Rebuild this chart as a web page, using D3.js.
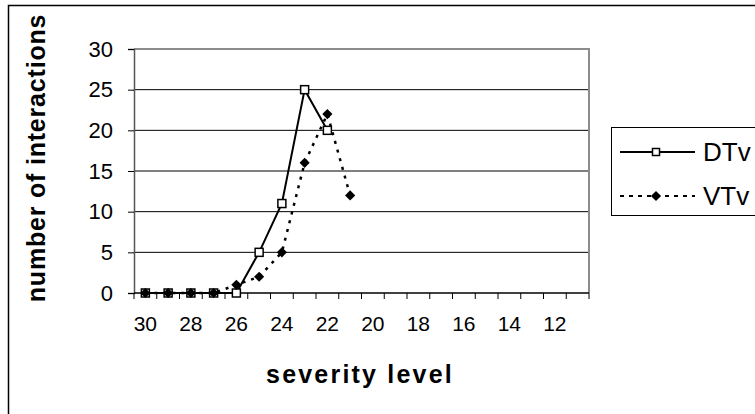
<!DOCTYPE html>
<html><head><meta charset="utf-8">
<script src="https://cdn.jsdelivr.net/npm/d3@7"></script>
<style>body{margin:0;background:#fff}svg{display:block}text{font-family:"Liberation Sans",Arial,sans-serif}</style>
</head><body><svg id="c" width="755" height="414"></svg>
<script>
const categories = [30,29,28,27,26,25,24,23,22,21,20,19,18,17,16,15,14,13,12,11];
const xTickLabels = [30,28,26,24,22,20,18,16,14,12];
const yTicks = [0,5,10,15,20,25,30];
const dtvCats = [30,29,28,27,26,25,24,23,22];
const dtvValues = [0,0,0,0,0,5,11,25,20];
const vtvCats = [30,29,28,27,26,25,24,23,22,21];
const vtvValues = [0,0,0,0,1,2,5,16,22,12];
const seriesNames = ["DTv","VTv"];

const svg = d3.select("#c");
const L=134, R=589, T=49, B=293;
const x = d3.scaleBand().domain(categories).range([L,R]);
const y = d3.scaleLinear().domain([0,30]).range([B,T]);
const cx = c => x(c) + x.bandwidth()/2;

// outer border
svg.append("rect").attr("x",8.5).attr("y",5.5).attr("width",900).attr("height",600)
  .attr("fill","none").attr("stroke","#000").attr("stroke-width",1.5);

// gridlines
svg.append("g").selectAll("line").data(yTicks.filter(d=>d>0&&d<30)).join("line")
  .attr("x1",L).attr("x2",R).attr("y1",d=>y(d)).attr("y2",d=>y(d))
  .attr("stroke","#000").attr("stroke-width",1);

// plot border (top/right)
svg.append("path").attr("d",`M${L},${T}H${R}V${B}`).attr("fill","none")
  .attr("stroke","#8c8c8c").attr("stroke-width",2);

// y axis
const yAxis = d3.axisLeft(y).tickValues(yTicks).tickSize(6).tickPadding(15).tickFormat(d3.format("d"));
const gy = svg.append("g").attr("transform",`translate(${L},0)`).call(yAxis);
gy.select(".domain").attr("stroke","#555").attr("stroke-width",1.5);
gy.selectAll(".tick line").attr("stroke","#000");
gy.selectAll("text").attr("font-size",22).attr("fill","#000").attr("font-family","Liberation Sans, Arial, sans-serif");

// x axis: ticks at category boundaries
const boundaries = categories.map(c=>x(c)).concat([R]);
const gx = svg.append("g");
gx.append("line").attr("x1",L).attr("x2",R).attr("y1",B).attr("y2",B).attr("stroke","#000").attr("stroke-width",1.5);
gx.selectAll("line.t").data(boundaries).join("line").attr("class","t")
  .attr("x1",d=>d).attr("x2",d=>d).attr("y1",B).attr("y2",B+6).attr("stroke","#000");
gx.selectAll("text").data(xTickLabels).join("text")
  .attr("x",d=>cx(d)).attr("y",331).attr("text-anchor","middle").attr("font-size",21).text(d=>d);

// titles
svg.append("text").attr("transform","translate(45,158) rotate(-90)").attr("text-anchor","middle")
  .attr("font-size",25).attr("font-weight","bold").attr("letter-spacing",0.8).text("number of interactions");
svg.append("text").attr("x",360).attr("y",383).attr("text-anchor","middle")
  .attr("font-size",25).attr("font-weight","bold").attr("letter-spacing",2.2).text("severity level");

// series
const line = d3.line().x(d=>cx(d[0])).y(d=>y(d[1]));
const dtv = dtvCats.map((c,i)=>[c,dtvValues[i]]);
const vtv = vtvCats.map((c,i)=>[c,vtvValues[i]]);
svg.append("path").datum(dtv).attr("d",line).attr("fill","none").attr("stroke","#000").attr("stroke-width",2);
svg.append("g").selectAll("rect").data(dtv).join("rect")
  .attr("x",d=>cx(d[0])-4).attr("y",d=>y(d[1])-4).attr("width",8).attr("height",8)
  .attr("fill","#fff").attr("stroke","#000").attr("stroke-width",1.5);
svg.append("path").datum(vtv).attr("d",line).attr("fill","none").attr("stroke","#000").attr("stroke-width",2.5).attr("stroke-dasharray","3,6");
const diamond = d3.symbol().type(d3.symbolDiamond2).size(66);
svg.append("g").selectAll("path").data(vtv).join("path")
  .attr("d",diamond).attr("transform",d=>`translate(${cx(d[0])},${y(d[1])})`).attr("fill","#000");

// legend
const lg = svg.append("g");
lg.append("rect").attr("x",611.5).attr("y",127.5).attr("width",300).attr("height",88)
  .attr("fill","#fff").attr("stroke","#000").attr("stroke-width",1);
const rows = [{n:seriesNames[0],y:152},{n:seriesNames[1],y:196}];
lg.append("line").attr("x1",620).attr("x2",695).attr("y1",rows[0].y).attr("y2",rows[0].y).attr("stroke","#000").attr("stroke-width",2);
lg.append("rect").attr("x",656-3.5).attr("y",rows[0].y-3.5).attr("width",7).attr("height",7).attr("fill","#fff").attr("stroke","#000").attr("stroke-width",1.5);
lg.append("line").attr("x1",620).attr("x2",695).attr("y1",rows[1].y).attr("y2",rows[1].y).attr("stroke","#000").attr("stroke-width",2).attr("stroke-dasharray","4,5");
lg.append("path").attr("d",diamond).attr("transform",`translate(656,${rows[1].y})`).attr("fill","#000");
lg.selectAll("text").data(rows).join("text").attr("x",703).attr("y",d=>d.y+9).attr("font-size",26).text(d=>d.n);
</script></body></html>
